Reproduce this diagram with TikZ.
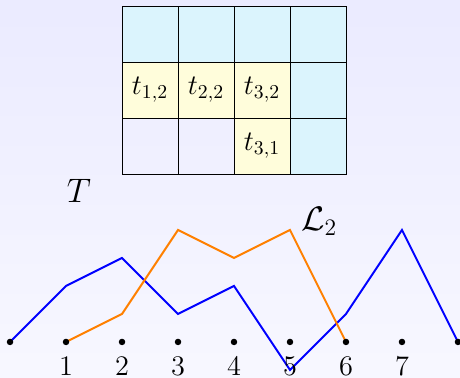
\documentclass[tikz,border=0pt]{standalone}
\usepackage{tikz}

\tikzset{
	pt/.style={circle, fill=black, inner sep=0pt, minimum size=3.3pt},
	cell/.style={draw=black, thin},
	lbl/.style={font=\Large, inner sep=0pt},
	big/.style={font=\LARGE}
}

\begin{document}
\begin{tikzpicture}

	% background
	\shade[top color=blue!8, bottom color=blue!3] (-0.179,-0.643) rectangle (8.036,6.107);
	\useasboundingbox (-0.179,-0.643) rectangle (8.036,6.107);

	% the table
	\foreach \x in {2,...,5}
		\filldraw[cell, fill=cyan!14] (\x,5) rectangle (\x+1,6);
	\foreach \x in {2,3,4}
		\filldraw[cell, fill=yellow!14] (\x,4) rectangle (\x+1,5);
	\filldraw[cell, fill=cyan!14] (5,4) rectangle (6,5);
	\draw[cell] (2,3) rectangle (3,4);
	\draw[cell] (3,3) rectangle (4,4);
	\filldraw[cell, fill=yellow!14] (4,3) rectangle (5,4);
	\filldraw[cell, fill=cyan!14] (5,3) rectangle (6,4);
	\node[lbl] (t12) at (2.5,4.5) {$t_{1,2}$};
	\node[lbl] (t22) at (3.5,4.5) {$t_{2,2}$};
	\node[lbl] (t32) at (4.5,4.5) {$t_{3,2}$};
	\node[lbl] (t31) at (4.5,3.5) {$t_{3,1}$};

	\node[big] (T) at (1.23,2.70) {$T$};
	\node[big] (L2) at (5.52,2.16) {$\mathcal{L}_2$};

	% the two walks
	\draw[blue, line width=1pt] (0,0) -- (1,1) -- (2,1.5) -- (3,0.5) -- (4,1)
		-- (5,-0.5) -- (6,0.5) -- (7,2) -- (8,0);
	\draw[orange, line width=1pt] (1,0) -- (2,0.5) -- (3,2) -- (4,1.5) -- (5,2) -- (6,0);

	% points on the axis
	\foreach \x in {0,...,8}
		\node[pt] (d\x) at (\x,0) {};
	\foreach \x in {1,...,7}
		\node[lbl] (n\x) at (\x,-0.43) {$\x$};

\end{tikzpicture}
\end{document}
